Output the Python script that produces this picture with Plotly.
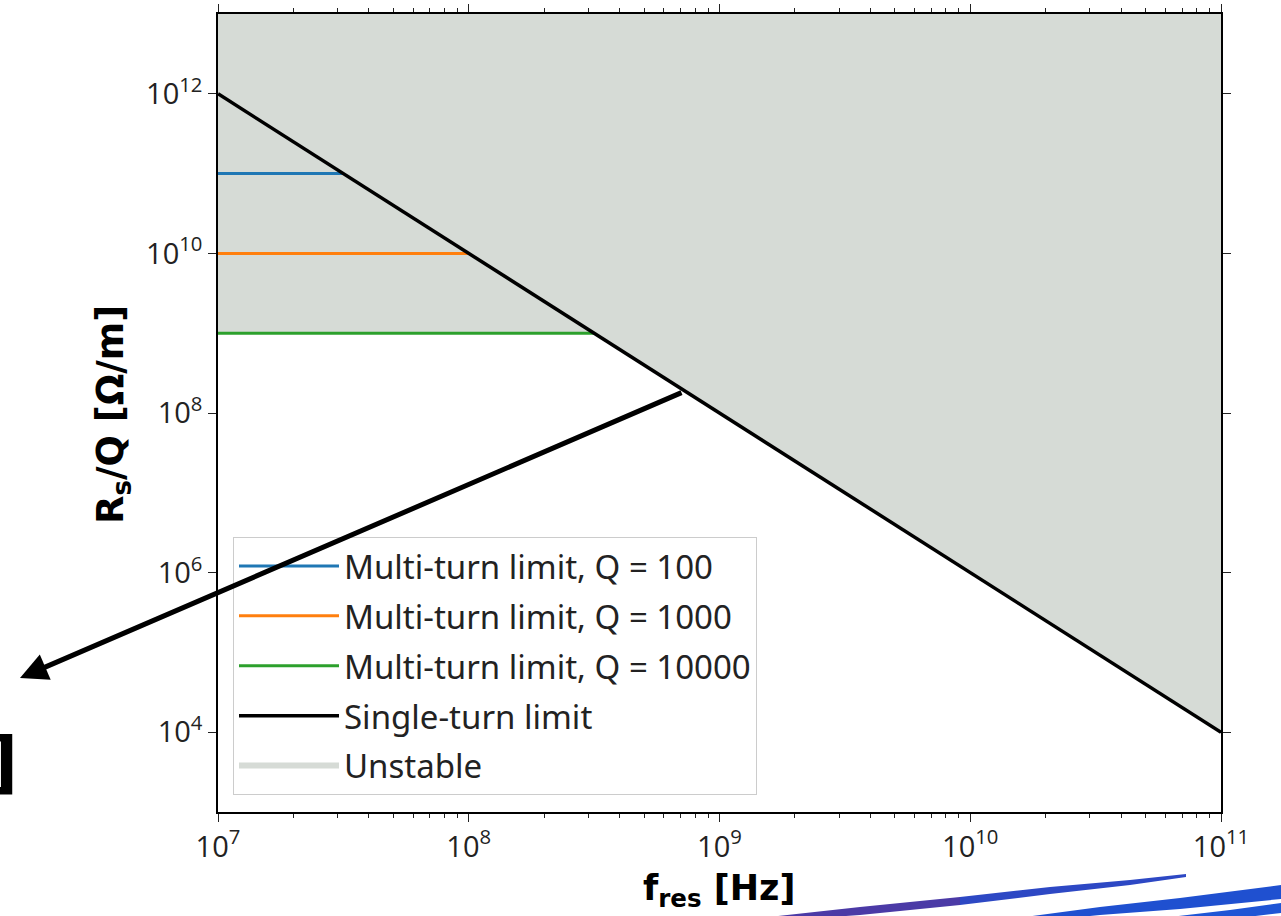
import plotly.graph_objects as go

# ---------------- data ----------------
freq_range = [1e7, 1e11]            # Hz, x extent
single_turn = [1e12, 1e4]           # Rs/Q at the two ends of the single-turn limit
y_top = 1e13                         # top of the unstable region (axis top)
q_labels = ["100", "1000", "10000"]
multi_turn_level = [1e11, 1e10, 1e9] # Rs/Q of multi-turn limits
multi_turn_end = [3.16e7, 1e8, 3.16e8]  # where they meet the single-turn limit
line_colors = ["#1f77b4", "#ff7f0e", "#2ca02c"]

x_ticks = [1e7, 1e8, 1e9, 1e10, 1e11]
x_tick_text = ["10<sup>7</sup>", "10<sup>8</sup>", "10<sup>9</sup>", "10<sup>10</sup>", "10<sup>11</sup>"]
y_ticks = [1e4, 1e6, 1e8, 1e10, 1e12]
y_tick_text = ["10<sup>4</sup>", "10<sup>6</sup>", "10<sup>8</sup>", "10<sup>10</sup>", "10<sup>12</sup>"]
x_minor = [m * 10 ** d for d in range(7, 11) for m in range(2, 10)]

W, H = 1281, 916
L, R, T, B = 218, 60, 14, 104
PW, PH = W - L - R, H - T - B


def px(xp, yp):
    return (xp - L) / PW, (H - B - yp) / PH


fig = go.Figure()

# unstable region: above the lowest multi-turn limit and the single-turn limit
fig.add_trace(go.Scatter(
    x=[freq_range[0], multi_turn_end[-1], freq_range[1], freq_range[1], freq_range[0], freq_range[0]],
    y=[multi_turn_level[-1], multi_turn_level[-1], single_turn[1], y_top, y_top, multi_turn_level[-1]],
    fill="toself", fillcolor="#d6dbd6", mode="none",
    name="Unstable", legendgroup="e", legendrank=5, hoverinfo="skip"))

for q, lvl, xe, c, g in zip(q_labels, multi_turn_level, multi_turn_end, line_colors, "abc"):
    fig.add_trace(go.Scatter(
        x=[freq_range[0], xe], y=[lvl, lvl], mode="lines",
        line=dict(color=c, width=3), name=f"Multi-turn limit, Q = {q}",
        legendgroup=g, legendrank={"a": 1, "b": 2, "c": 3}[g]))

fig.add_trace(go.Scatter(
    x=freq_range, y=single_turn, mode="lines",
    line=dict(color="black", width=3.5), name="Single-turn limit",
    legendgroup="d", legendrank=4))

axis_common = dict(
    type="log", showline=True, linecolor="black", linewidth=1.5, mirror="ticks",
    ticks="outside", ticklen=8, tickwidth=1.3, tickcolor="#222",
    showgrid=False, zeroline=False, automargin=False,
    tickfont=dict(family="Open Sans", size=29, color="#222"),
)

fig.update_xaxes(range=[7, 11], tickmode="array", tickvals=x_ticks, ticktext=x_tick_text,
                 minor=dict(tickmode="array", tickvals=x_minor, ticks="outside", ticklen=4,
                            tickwidth=1, tickcolor="#222", showgrid=False),
                 **axis_common)
fig.update_yaxes(range=[3, 13], tickmode="array", tickvals=y_ticks, ticktext=y_tick_text,
                 **axis_common)

annotations = []
# axis titles
xt = px(719, 890)
annotations.append(dict(xref="paper", yref="paper", x=xt[0], y=xt[1],
                        text="<b>f<sub>res</sub> [Hz]</b>", showarrow=False,
                        font=dict(family="DejaVu Sans", size=35, color="black"),
                        xanchor="center", yanchor="middle"))
yt = px(113, 415)
annotations.append(dict(xref="paper", yref="paper", x=yt[0], y=yt[1],
                        text="<b>R<sub>s</sub>/Q [Ω/m]</b>", showarrow=False, textangle=-90,
                        font=dict(family="DejaVu Sans", size=37, color="black"),
                        xanchor="center", yanchor="middle"))
# arrow
head = px(20, 678)
annotations.append(dict(xref="paper", yref="paper", x=head[0], y=head[1], text="",
                        showarrow=True, axref="pixel", ayref="pixel", ax=683 - 20, ay=392 - 678,
                        arrowhead=2, arrowsize=1.1, arrowwidth=5, arrowcolor="black",
                        standoff=0, startstandoff=0))
# cropped bracket at left edge
br = px(20, 762)
annotations.append(dict(xref="paper", yref="paper", x=br[0], y=br[1], text="<b>]</b>",
                        showarrow=False, xanchor="right", yanchor="middle",
                        font=dict(family="DejaVu Sans", size=68, color="black")))

# decorative brush strokes at bottom right
def path(points):
    pts = [px(a, b) for a, b in points]
    return "M " + " L ".join(f"{x:.5f},{y:.5f}" for x, y in pts) + " Z"

strokes = [
    ([(760, 918), (860, 907), (960, 897), (960, 905), (860, 915), (790, 920)], "#4b3aa6"),
    ([(960, 897), (1050, 887), (1130, 880), (1186, 874), (1186, 877), (1130, 885), (1050, 894), (960, 905)], "#2d48c4"),
    ([(1025, 917), (1100, 907), (1180, 898), (1281, 885), (1281, 899), (1180, 909), (1100, 915), (1040, 921)], "#1f50d0"),
    ([(1170, 917), (1230, 910), (1281, 903), (1281, 913), (1230, 919)], "#1f55d5"),
]
shapes = [dict(type="path", xref="paper", yref="paper", path=path(p), fillcolor=c,
               line=dict(width=0), layer="above") for p, c in strokes]

fig.update_layout(
    width=W, height=H, margin=dict(l=L, r=R, t=T, b=B),
    plot_bgcolor="white", paper_bgcolor="white",
    showlegend=True,
    legend=dict(x=(233 - L) / PW, y=(H - B - 795) / PH, xanchor="left", yanchor="bottom",
                bgcolor="rgba(255,255,255,0.85)", bordercolor="#cccccc", borderwidth=1,
                font=dict(family="Noto Sans", size=33, color="#222"),
                traceorder="grouped", tracegroupgap=4, itemwidth=100),
    annotations=annotations, shapes=shapes,
)

fig.write_html("out.html", config={"displayModeBar": False},
               post_script="document.body.style.margin='0';")
